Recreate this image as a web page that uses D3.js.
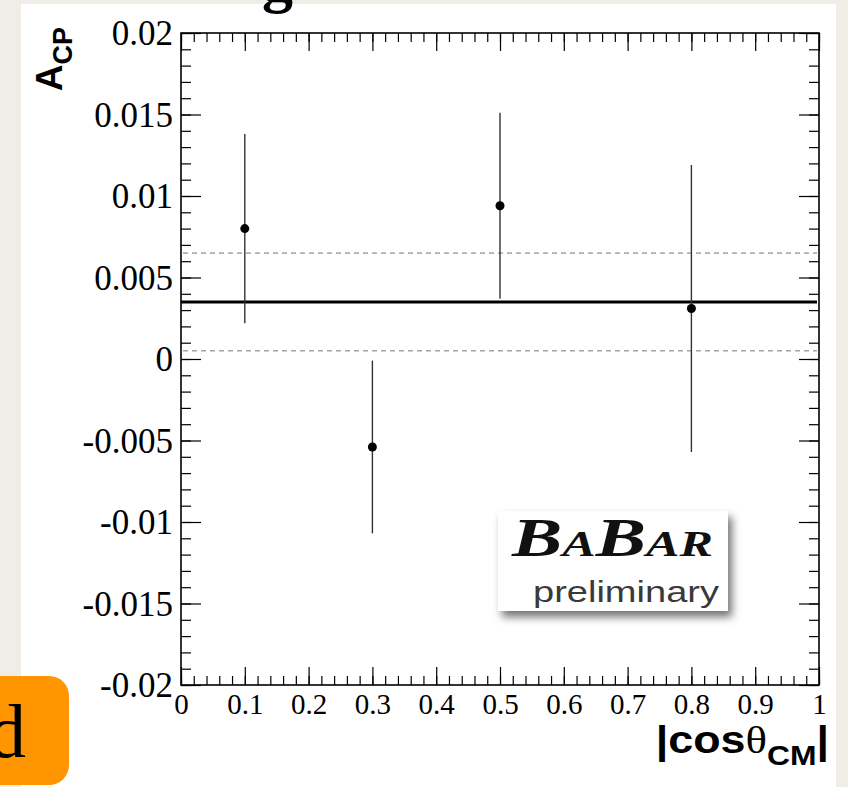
<!DOCTYPE html>
<html>
<head>
<meta charset="utf-8">
<script src="https://cdn.jsdelivr.net/npm/d3@7"></script>
<style>
  html, body { margin: 0; padding: 0; background: #f0ede7; }
  svg { display: block; }
</style>
</head>
<body>
<script>
// ---- data ----
const binCenters = [0.1, 0.3, 0.5, 0.8];
const acpValues = [0.0080, -0.0054, 0.0094, 0.0031];
const acpErrors = [0.0058, 0.0053, 0.0057, 0.0088];
const meanValue = 0.0035;
const meanError = 0.0030;
const yTickValues = [0.02, 0.015, 0.01, 0.005, 0, -0.005, -0.01, -0.015, -0.02];
const yTickLabels = ["0.02", "0.015", "0.01", "0.005", "0", "-0.005", "-0.01", "-0.015", "-0.02"];
const xTickValues = [0, 0.1, 0.2, 0.3, 0.4, 0.5, 0.6, 0.7, 0.8, 0.9, 1];
const xTickLabels = ["0", "0.1", "0.2", "0.3", "0.4", "0.5", "0.6", "0.7", "0.8", "0.9", "1"];

const W = 848, H = 787;
const svg = d3.select("body").append("svg").attr("width", W).attr("height", H);

// background
svg.append("rect").attr("x", 0).attr("y", 0).attr("width", W).attr("height", H).attr("fill", "#f0ede7");
svg.append("rect").attr("x", 21).attr("y", 4).attr("width", 815).attr("height", H - 4).attr("fill", "#ffffff");

// partial title (cut off at top, as in the source slide)
svg.append("text").attr("x", 262).attr("y", 1)
  .attr("font-family", "Liberation Serif").attr("font-weight", "bold").attr("font-size", 62)
  .attr("fill", "#000").text("g");

const pLeft = 181, pRight = 819, pTop = 33, pBottom = 685;
const x = d3.scaleLinear().domain([0, 1]).range([pLeft, pRight]);
const y = d3.scaleLinear().domain([-0.02, 0.02]).range([pBottom, pTop]);

const yMinor = d3.range(-20, 21).map(d => d / 1000);
const xMinor = d3.range(0, 51).map(d => d / 50);

function styleAxis(g) {
  g.select(".domain").remove();
  g.selectAll(".tick line").attr("stroke", "#000").attr("stroke-width", 1.2);
}

// left axis (labels + major ticks)
const yLabelMap = new Map(yTickValues.map((v, i) => [v, yTickLabels[i]]));
svg.append("g").attr("transform", `translate(${pLeft},0)`)
  .call(d3.axisLeft(y).tickValues(yTickValues).tickSizeInner(-20).tickSizeOuter(0).tickPadding(8)
    .tickFormat(d => yLabelMap.get(d)))
  .call(styleAxis)
  .call(g => g.selectAll(".tick text").attr("font-family", "Liberation Serif").attr("font-size", 35).attr("fill", "#000").attr("dy", "0.33em"));
svg.append("g").attr("transform", `translate(${pLeft},0)`)
  .call(d3.axisLeft(y).tickValues(yMinor).tickSizeInner(-10).tickSizeOuter(0).tickFormat(""))
  .call(styleAxis);
// right axis
svg.append("g").attr("transform", `translate(${pRight},0)`)
  .call(d3.axisRight(y).tickValues(yTickValues).tickSizeInner(-20).tickSizeOuter(0).tickFormat(""))
  .call(styleAxis);
svg.append("g").attr("transform", `translate(${pRight},0)`)
  .call(d3.axisRight(y).tickValues(yMinor).tickSizeInner(-10).tickSizeOuter(0).tickFormat(""))
  .call(styleAxis);

// bottom axis
const xLabelMap = new Map(xTickValues.map((v, i) => [v, xTickLabels[i]]));
svg.append("g").attr("transform", `translate(0,${pBottom})`)
  .call(d3.axisBottom(x).tickValues(xTickValues).tickSizeInner(-18).tickSizeOuter(0).tickPadding(8)
    .tickFormat(d => xLabelMap.get(d)))
  .call(styleAxis)
  .call(g => g.selectAll(".tick text").attr("font-family", "Liberation Serif").attr("font-size", 29).attr("fill", "#000"));
svg.append("g").attr("transform", `translate(0,${pBottom})`)
  .call(d3.axisBottom(x).tickValues(xMinor).tickSizeInner(-9).tickSizeOuter(0).tickFormat(""))
  .call(styleAxis);
// top axis
svg.append("g").attr("transform", `translate(0,${pTop})`)
  .call(d3.axisTop(x).tickValues(xTickValues).tickSizeInner(-18).tickSizeOuter(0).tickFormat(""))
  .call(styleAxis);
svg.append("g").attr("transform", `translate(0,${pTop})`)
  .call(d3.axisTop(x).tickValues(xMinor).tickSizeInner(-9).tickSizeOuter(0).tickFormat(""))
  .call(styleAxis);

// frame
svg.append("rect").attr("x", pLeft).attr("y", pTop).attr("width", pRight - pLeft).attr("height", pBottom - pTop)
  .attr("fill", "none").attr("stroke", "#000").attr("stroke-width", 1.6);

// mean and +-1 sigma lines
svg.append("line").attr("x1", x(0)).attr("x2", x(1) - 2).attr("y1", y(meanValue)).attr("y2", y(meanValue))
  .attr("stroke", "#000").attr("stroke-width", 3);
[meanValue + meanError, meanValue - meanError].forEach(v => {
  svg.append("line").attr("x1", x(0) + 2).attr("x2", x(1) - 2).attr("y1", y(v)).attr("y2", y(v))
    .attr("stroke", "#777").attr("stroke-width", 1).attr("stroke-dasharray", "5,4");
});

// data points with error bars
const pts = binCenters.map((c, i) => ({ x: c, v: acpValues[i], e: acpErrors[i] }));
svg.append("g").selectAll("line").data(pts).join("line")
  .attr("x1", d => x(d.x)).attr("x2", d => x(d.x))
  .attr("y1", d => y(d.v + d.e)).attr("y2", d => y(d.v - d.e))
  .attr("stroke", "#333").attr("stroke-width", 1.4);
svg.append("g").selectAll("circle").data(pts).join("circle")
  .attr("cx", d => x(d.x)).attr("cy", d => y(d.v)).attr("r", 4.5).attr("fill", "#000");

// axis titles
const yt = svg.append("text").attr("transform", "translate(62,27) rotate(-90)")
  .attr("text-anchor", "end").attr("font-family", "Liberation Sans").attr("font-weight", "bold")
  .attr("font-size", 37).attr("fill", "#000");
yt.append("tspan").text("A");
yt.append("tspan").attr("font-size", 27).attr("dy", 10).text("CP");

const xt = svg.append("text").attr("transform", "translate(829,753) scale(1.18,1)")
  .attr("text-anchor", "end").attr("font-family", "Liberation Sans").attr("font-weight", "bold")
  .attr("font-size", 38).attr("fill", "#000");
xt.append("tspan").text("|cos");
xt.append("tspan").attr("font-family", "Liberation Serif").attr("font-weight", "normal").text("θ");
xt.append("tspan").attr("font-size", 27).attr("dy", 12).text("CM");
xt.append("tspan").attr("dy", -12).text("|");

// BaBar logo
const defs = svg.append("defs");
const f = defs.append("filter").attr("id", "shadow").attr("x", "-10%").attr("y", "-10%").attr("width", "130%").attr("height", "140%");
f.append("feDropShadow").attr("dx", 4).attr("dy", 6).attr("stdDeviation", 4).attr("flood-color", "#000").attr("flood-opacity", 0.55);
svg.append("rect").attr("x", 498).attr("y", 511).attr("width", 230).attr("height", 100)
  .attr("fill", "#fff").attr("filter", "url(#shadow)");
const bb = svg.append("text").attr("x", 512).attr("y", 556)
  .attr("font-family", "Liberation Serif").attr("font-weight", "bold").attr("font-style", "italic")
  .attr("fill", "#111").attr("textLength", 201).attr("lengthAdjust", "spacingAndGlyphs");
bb.append("tspan").attr("font-size", 54).text("B");
bb.append("tspan").attr("font-size", 36).text("A");
bb.append("tspan").attr("font-size", 54).text("B");
bb.append("tspan").attr("font-size", 36).text("AR");
svg.append("text").attr("x", 533).attr("y", 602)
  .attr("font-family", "Liberation Sans").attr("font-size", 29).attr("fill", "#3a3a3a")
  .attr("textLength", 186).attr("lengthAdjust", "spacingAndGlyphs").text("preliminary");

// orange panel tag
svg.append("rect").attr("x", -30).attr("y", 676).attr("width", 99).attr("height", 109).attr("rx", 20)
  .attr("fill", "#ff9500");
svg.append("text").attr("x", 26).attr("y", 757).attr("text-anchor", "end")
  .attr("font-family", "Liberation Serif").attr("font-size", 76).attr("fill", "#000").text("d");
</script>
</body>
</html>
